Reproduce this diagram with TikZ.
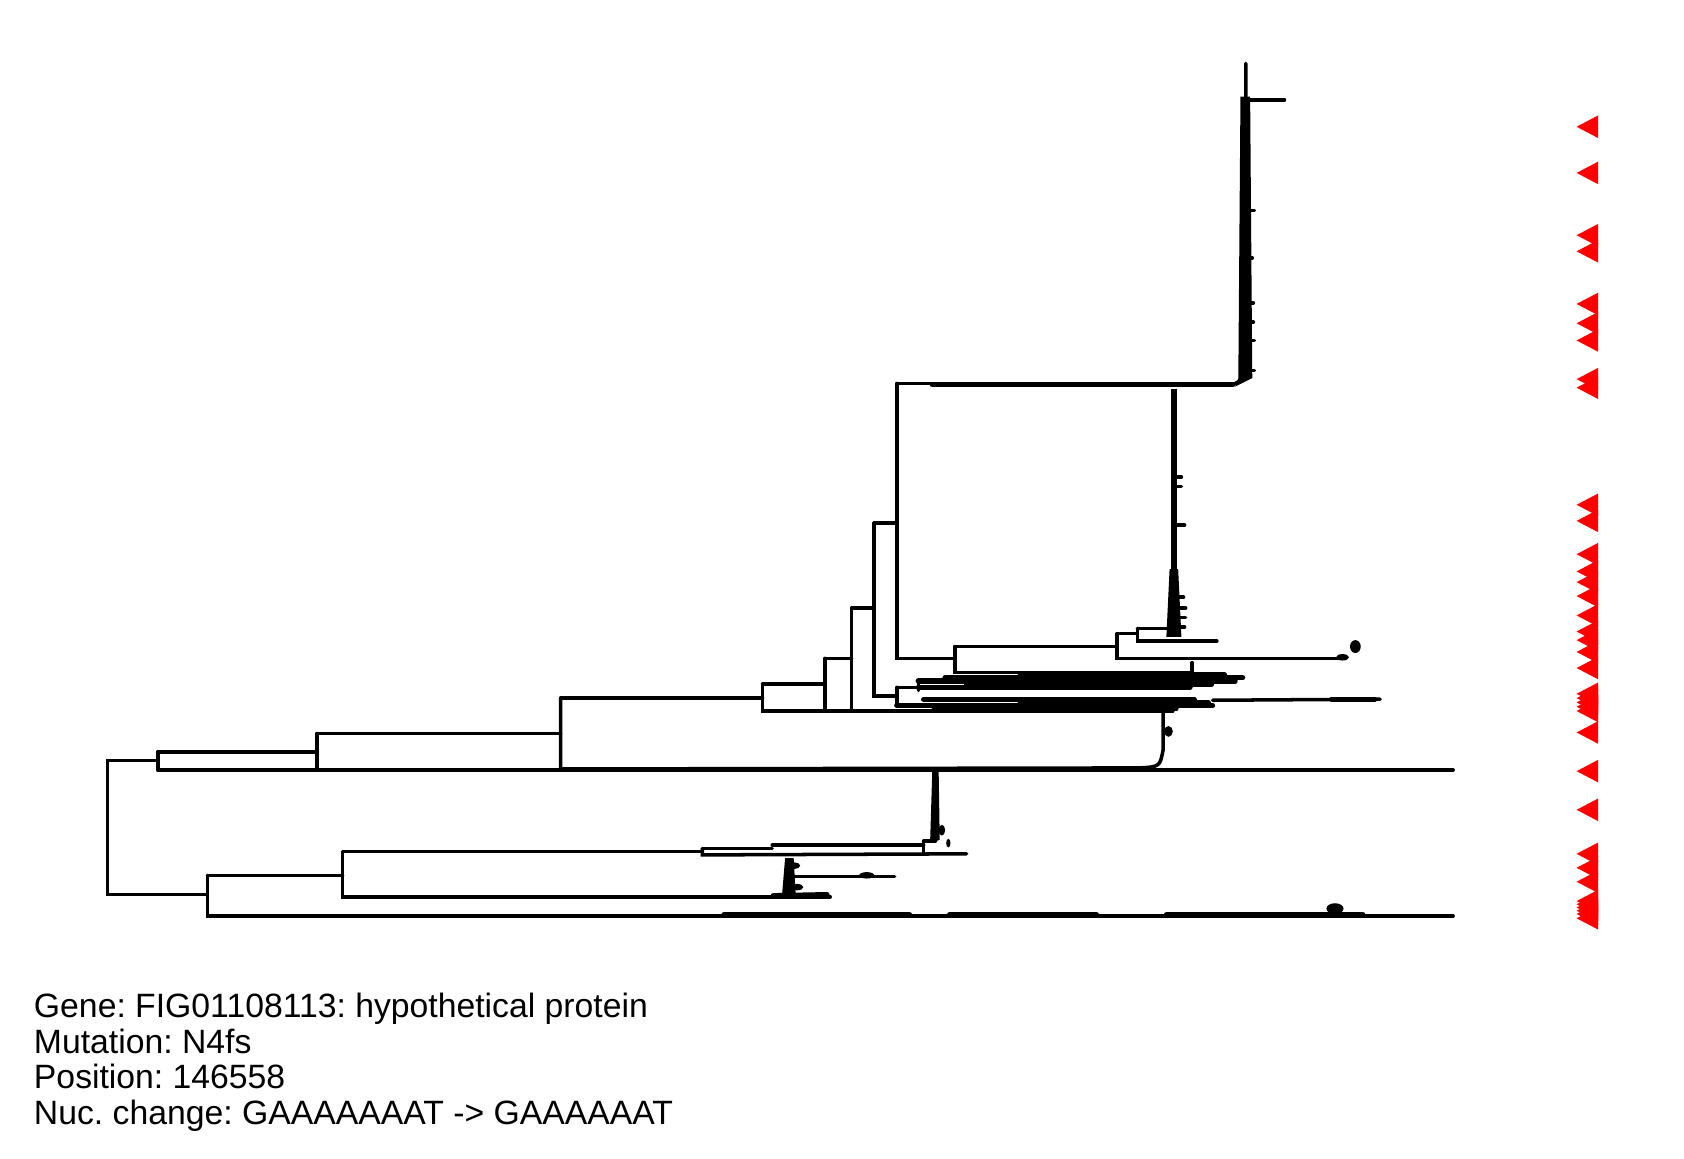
\documentclass[tikz,border=0pt]{standalone}
\usepackage{fontspec}
\setmainfont{Liberation Sans}
\usetikzlibrary{positioning}
\frenchspacing

\begin{document}
\begin{tikzpicture}[x=0.01074cm,y=-0.01074cm]
  \tikzstyle{branch}=[line width=1pt,line cap=round]
  \tikzstyle{thick branch}=[line width=1.5pt,line cap=round]
  \tikzstyle{hit}=[fill=red]
  \tikzstyle{info}=[anchor=base west,inner sep=0pt,font=\fontsize{9.6}{10.2}\selectfont]
  \useasboundingbox (0,0) rectangle (1568,1079);
  % root and backbone
  \draw[branch] (147,708) -- (100,708) -- (100,833) -- (193,833);
  \draw[branch] (147,700) -- (147,717);
  \draw[branch] (147,717) -- (1353,717);
  \draw[branch] (147,700) -- (295,700);
  \draw[branch] (295,683) -- (295,717);
  \draw[branch] (295,683) -- (522,683);
  \draw[branch] (522,650) -- (522,716) -- (1060,715) .. controls (1080,714) .. (1083,698) -- (1083,662);
  \draw[branch] (522,650) -- (710,650);
  \draw[branch] (710,637) -- (710,662) -- (1092,662);
  \draw[branch] (710,637) -- (768,637);
  \draw[branch] (768,613) -- (768,662);
  \draw[branch] (768,613) -- (793,613);
  \draw[branch] (793,566) -- (793,662);
  \draw[branch] (793,566) -- (814,566);
  \draw[branch] (814,487) -- (814,648) -- (835,648);
  \draw[branch] (814,487) -- (835,487);
  \draw[branch] (835,357) -- (835,613) -- (889,613);
  % top clade
  \draw[branch] (835,357) -- (1150,357);
  \draw[thick branch] (868,358) -- (1148,358);
  \draw[branch] (1150,357) -- (1160,352) -- (1160,59);
  \draw[branch] (1160,93) -- (1196,93);
  \fill (1155,90) -- (1164,90) -- (1166,352) -- (1150,360) -- (1153,352) -- cycle;
  \foreach \y/\e in {196/1168,240/1166,282/1167,300/1167,317/1168,345/1168}
     \draw[branch] (1160,\y) -- (\e,\y);
  % cluster under the top clade
  \draw[line width=1.8pt] (1093,362) -- (1093,590);
  \fill (1089,530) -- (1097,530) -- (1100,593) -- (1086,593) -- cycle;
  \foreach \y/\e in {444/1100,453/1100,489/1103,556/1102,566/1104,575/1104,584/1103}
     \draw[branch] (1093,\y) -- (\e,\y);
  \draw[branch] (889,602) -- (889,626) -- (1110,626) -- (1110,617);
  \draw[branch] (889,602) -- (1040,602);
  \draw[branch] (1040,590) -- (1040,613) -- (1251,613);
  \fill (1250,612) ellipse (6 and 3) (1262,602) ellipse (5 and 6);
  \draw[branch] (1040,590) -- (1059,590);
  \draw[branch] (1059,585) -- (1059,597) -- (1133,597);
  \draw[branch] (1059,585) -- (1092,585);
  % dense bundles
  \draw[branch] (835,640) -- (835,656);
  \draw[branch] (835,640) -- (855,640);
  \draw[branch] (855,634) -- (855,643);
  \foreach \y/\a/\e in {628/950/1140,631/880/1157,634/855/1150,637/900/1128,640/855/1108}
     \draw[thick branch] (\a,\y) -- (\e,\y);
  \foreach \y/\a/\e in {651/860/1112,654/950/1125,657/835/1129,660/870/1095}
     \draw[thick branch] (\a,\y) -- (\e,\y);
  \draw[branch] (1129,652) -- (1285,651);
  \draw[thick branch] (1240,651) -- (1280,651);
  \fill (1088,681) ellipse (4 and 5);
  % lower clade
  \draw[branch] (193,815) -- (193,853) -- (1353,853);
  \foreach \a/\e in {674/847,884/1021,1086/1269}
     \draw[thick branch] (\a,852) -- (\e,852);
  \fill (1243,846) ellipse (8 and 5);
  \draw[branch] (193,815) -- (319,815);
  \draw[branch] (319,793) -- (319,835) -- (773,835);
  \draw[branch] (319,793) -- (654,793);
  \draw[branch] (654,790) -- (654,796) -- (900,795);
  \draw[branch] (654,790) -- (719,790);
  \draw[branch] (719,787) -- (860,787);
  \draw[branch] (860,783) -- (860,794);
  \draw[branch] (860,783) -- (871,783);
  \fill (868,719) -- (874,719) -- (875,782) -- (866,785) -- cycle;
  \fill (877,773) ellipse (3 and 5) (883,785) ellipse (2 and 4);
  \fill (731,799) -- (739,799) -- (741,835) -- (728,835) -- cycle;
  \draw[branch] (738,816) -- (833,816);
  \fill (807,815) ellipse (7 and 3) (740,806) ellipse (5 and 3) (742,826) ellipse (6 and 3);
  \draw[thick branch] (720,834) -- (770,833);
  % mutation marks
  \foreach \y in {118,161,219,234,283,301,317,353,361,470,485,516,532,542,555,573,588,596,607,622,
                  646,650,654,658,662,682,718,754,795,808,821,839,842,845,848,851,855}
     \fill[hit] (1468,\y) -- (1488,\y-10.5) -- (1488,\y+10.5) -- cycle;
  % annotation
  \node[info] (gene) at (31,947.5) {Gene: FIG01108113: hypothetical protein};
  \node[info] (mut) at (31,980.7) {Mutation: N4fs};
  \node[info] (pos) at (31,1013.9) {Position: 146558};
  \node[info] (nuc) at (31,1047.1) {Nuc. change: GAAAAAAAT -> GAAAAAAT};
\end{tikzpicture}
\end{document}
